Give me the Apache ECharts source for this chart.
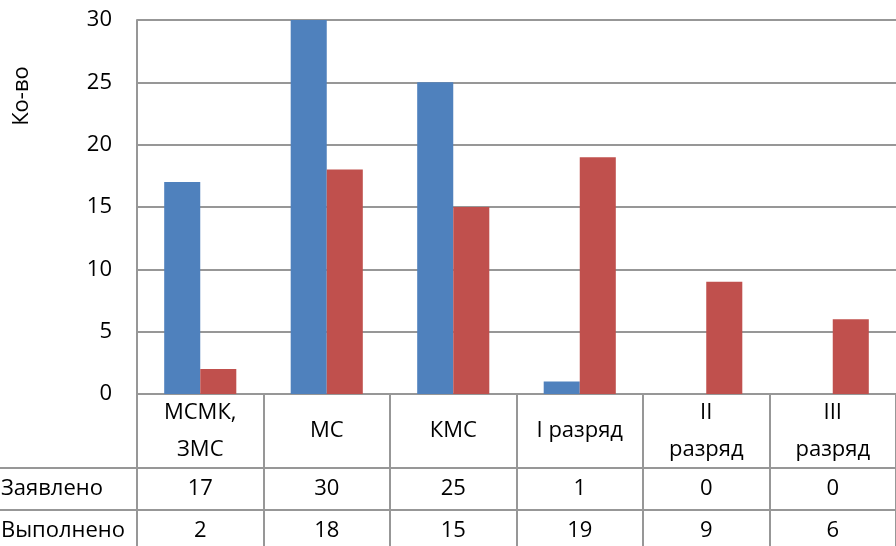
<!DOCTYPE html>
<html>
<head>
<meta charset="utf-8">
<script src="https://cdn.jsdelivr.net/npm/echarts/dist/echarts.min.js"></script>
<style>
  html, body { margin: 0; padding: 0; background: #ffffff; }
  #chart { width: 896px; height: 546px; }
</style>
</head>
<body>
<div id="chart"></div>
<script>
// Разряды (категории), строки таблицы данных и значения
const categories = ['МСМК,\nЗМС', 'МС', 'КМС', 'I разряд', 'II\nразряд', 'III\nразряд'];
const seriesNames = ['Заявлено', 'Выполнено'];
const planned = [17, 30, 25, 1, 0, 0];
const achieved = [2, 18, 15, 19, 9, 6];
const yAxisTitle = 'Ко-во';
const yMin = 0, yMax = 30, yStep = 5;

const FONT = 'Open Sans';
const FS = 22;
const LINE = '#979797';
const BLUE = '#4F81BD';
const RED = '#C0504D';

const chart = echarts.init(document.getElementById('chart'), null, { renderer: 'canvas' });

const tableRows = [planned, achieved];

const option = {
  animation: false,
  backgroundColor: '#ffffff',
  textStyle: { fontFamily: FONT },
  grid: { left: 137, top: 20, width: 762, height: 374, containLabel: false },
  xAxis: {
    type: 'category',
    data: categories,
    axisLine: { show: true, lineStyle: { color: LINE, width: 2 } },
    axisTick: { show: true, interval: 0, length: 160, alignWithLabel: false, lineStyle: { color: LINE, width: 2 } },
    axisLabel: {
      interval: 0,
      margin: 0,
      verticalAlign: 'top',
      color: '#000',
      fontFamily: FONT,
      fontSize: FS,
      formatter: (value, idx) => {
        const parts = value.split('\n');
        const head = parts.length === 1
          ? `{h1|${parts[0]}}`
          : parts.map(p => `{h2|${p}}`).join('\n');
        const cells = tableRows.map(r => `{v|${r[idx]}}`).join('\n');
        return `${head}\n${cells}`;
      },
      rich: {
        h1: { fontSize: FS, lineHeight: 74, color: '#000', fontFamily: FONT },
        h2: { fontSize: FS, lineHeight: 37, color: '#000', fontFamily: FONT },
        v:  { fontSize: FS, lineHeight: 42, color: '#000', fontFamily: FONT }
      }
    },
    splitLine: { show: false }
  },
  yAxis: {
    type: 'value',
    min: yMin,
    max: yMax,
    interval: yStep,
    axisLine: { show: true, lineStyle: { color: LINE, width: 2 } },
    axisTick: { show: false },
    axisLabel: { color: '#000', fontSize: FS, fontFamily: FONT, margin: 25 },
    splitLine: { show: true, lineStyle: { color: LINE, width: 2 } }
  },
  series: [
    {
      name: seriesNames[0],
      type: 'bar',
      data: planned,
      barGap: '0%',
      barCategoryGap: '43%',
      itemStyle: { color: BLUE }
    },
    {
      name: seriesNames[1],
      type: 'bar',
      data: achieved,
      barGap: '0%',
      barCategoryGap: '43%',
      itemStyle: { color: RED }
    }
  ],
  graphic: [
    {
      type: 'text',
      x: 22, y: 96,
      rotation: Math.PI / 2,
      style: { text: yAxisTitle, fontSize: FS, fontFamily: FONT, fill: '#000', align: 'center', verticalAlign: 'middle' }
    },
    { type: 'line', shape: { x1: 0, y1: 468, x2: 896, y2: 468 }, style: { stroke: LINE, lineWidth: 2 } },
    { type: 'line', shape: { x1: 0, y1: 510, x2: 896, y2: 510 }, style: { stroke: LINE, lineWidth: 2 } },
    {
      type: 'text', x: 1, y: 489,
      style: { text: seriesNames[0], fontSize: FS, fontFamily: FONT, fill: '#000', align: 'left', verticalAlign: 'middle' }
    },
    {
      type: 'text', x: 1, y: 531,
      style: { text: seriesNames[1], fontSize: FS, fontFamily: FONT, fill: '#000', align: 'left', verticalAlign: 'middle' }
    }
  ]
};

chart.setOption(option);
</script>
</body>
</html>
